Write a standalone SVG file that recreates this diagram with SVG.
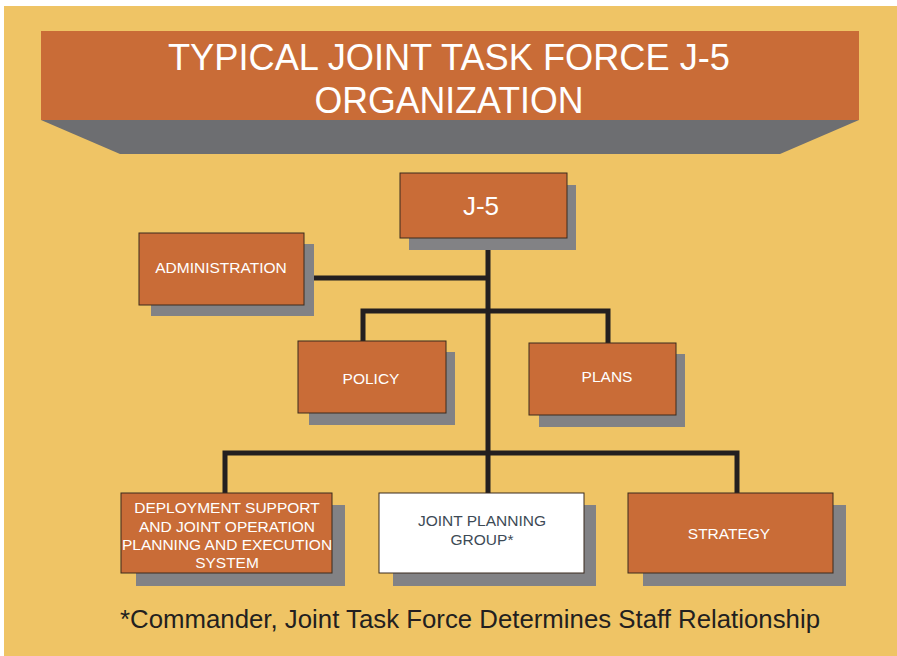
<svg xmlns="http://www.w3.org/2000/svg" width="897" height="656" viewBox="0 0 897 656">
<style>
.box{fill:#c96c37;stroke:#3b2a1e;stroke-width:1}
.wbox{fill:#ffffff;stroke:#3b2a1e;stroke-width:1}
.sh{fill:#828285}
.lbl{font-family:"Liberation Sans",Arial,sans-serif;font-size:15.5px;fill:#ffffff;text-anchor:middle}
.dlbl{fill:#3d4a55}
.ln{fill:none;stroke:#231f20;stroke-width:5;stroke-linejoin:miter;stroke-linecap:butt}
</style>
<rect x="0" y="0" width="897" height="656" fill="#ffffff"/>
<rect x="4" y="6" width="893" height="650" fill="#efc465"/>
<g id="title">
<polygon points="41,120 859,120 780,154 120,154" fill="#6d6e71"/>
<rect x="41" y="31" width="818" height="89" fill="#c96c37"/>
<text x="449" y="70" font-family="'Liberation Sans',Arial,sans-serif" font-size="37" fill="#ffffff" text-anchor="middle" textLength="562" lengthAdjust="spacingAndGlyphs">TYPICAL JOINT TASK FORCE J-5</text>
<text x="449" y="113" font-family="'Liberation Sans',Arial,sans-serif" font-size="37" fill="#ffffff" text-anchor="middle" textLength="269" lengthAdjust="spacingAndGlyphs">ORGANIZATION</text>
</g>
<g id="connectors">
<path class="ln" d="M488,238 V493"/>
<path class="ln" d="M314,278 H488"/>
<path class="ln" d="M363,341 V311 H608 V343"/>
<path class="ln" d="M225,493 V453 H737 V493"/>
</g>
<g id="j5">
<rect class="sh" x="409" y="185" width="167" height="65"/>
<rect class="box" x="400" y="173" width="167" height="65"/>
<text x="481" y="215" font-family="'Liberation Sans',Arial,sans-serif" font-size="26" fill="#ffffff" text-anchor="middle">J-5</text>
</g>
<g id="administration">
<rect class="sh" x="151" y="244" width="163" height="72"/>
<rect class="box" x="139" y="233" width="165" height="72"/>
<text class="lbl" x="221" y="273">ADMINISTRATION</text>
</g>
<g id="policy">
<rect class="sh" x="309" y="352" width="146" height="73"/>
<rect class="box" x="298" y="341" width="148" height="72"/>
<text class="lbl" x="371" y="384">POLICY</text>
</g>
<g id="plans">
<rect class="sh" x="539" y="354" width="146" height="73"/>
<rect class="box" x="529" y="343" width="147" height="72"/>
<text class="lbl" x="607" y="382">PLANS</text>
</g>
<g id="deployment">
<rect class="sh" x="136" y="505" width="209" height="81"/>
<rect class="box" x="121" y="493" width="211" height="80"/>
<text class="lbl" x="227" y="513">DEPLOYMENT SUPPORT</text>
<text class="lbl" x="227" y="532">AND JOINT OPERATION</text>
<text class="lbl" x="227" y="550">PLANNING AND EXECUTION</text>
<text class="lbl" x="227" y="568">SYSTEM</text>
</g>
<g id="jpg">
<rect class="sh" x="393" y="505" width="203" height="81"/>
<rect class="wbox" x="379" y="493" width="205" height="80"/>
<text class="lbl dlbl" x="482" y="526">JOINT PLANNING</text>
<text class="lbl dlbl" x="482" y="545">GROUP*</text>
</g>
<g id="strategy">
<rect class="sh" x="643" y="505" width="203" height="81"/>
<rect class="box" x="628" y="493" width="205" height="80"/>
<text class="lbl" x="729" y="539">STRATEGY</text>
</g>
<text x="470" y="628" font-family="'Liberation Sans',Arial,sans-serif" font-size="25" fill="#231f20" text-anchor="middle" textLength="700" lengthAdjust="spacingAndGlyphs">*Commander, Joint Task Force Determines Staff Relationship</text>
</svg>
